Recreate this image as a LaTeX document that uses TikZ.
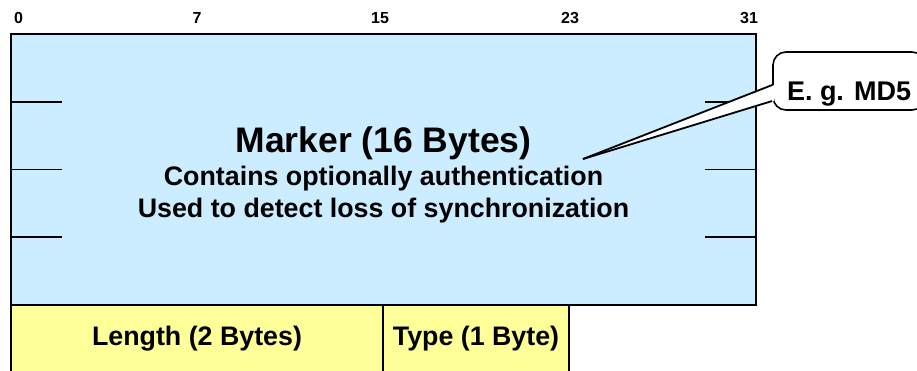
\documentclass[tikz,border=0pt]{standalone}
\usepackage{fontspec}
\setmainfont{Liberation Sans}
\usepackage{tikz}
\usetikzlibrary{positioning,calc}
\definecolor{mkblue}{RGB}{204,236,255}
\definecolor{lnyellow}{RGB}{255,255,153}

\begin{document}
\begin{tikzpicture}[x=1pt,y=-1pt,
  fld/.style={draw,line width=2.1pt,outer sep=0pt,inner sep=0pt},
  bitno/.style={font=\fontsize{16}{18}\selectfont\bfseries},
  bigtxt/.style={font=\fontsize{35.5}{40}\selectfont\bfseries},
  midtxt/.style={font=\fontsize{26.8}{30}\selectfont\bfseries},
  sidemark/.style={line width=1.9pt}]
\useasboundingbox (0,0) rectangle (917,370);
\clip (0,0) rectangle (917,370);

% marker field
\node [fld,fill=mkblue,minimum width=745pt,minimum height=271pt,anchor=north west] (Mk) at (11,34) {};
\node [bitno] (B0) at (18.5,18) {0};
\node [bitno] (B7) at (197,18) {7};
\node [bitno] (B15) at (380,18) {15};
\node [bitno] (B23) at (570,18) {23};
\node [bitno] (B31) at (749,18) {31};

\draw [sidemark] ($(Mk.north west)!0.25!(Mk.south west)$) -- +(51,0);
\draw [sidemark] ($(Mk.north west)!0.5!(Mk.south west)$) -- +(51,0);
\draw [sidemark] ($(Mk.north west)!0.75!(Mk.south west)$) -- +(51,0);
\draw [sidemark] ($(Mk.north east)!0.25!(Mk.south east)$) -- +(-51,0);
\draw [sidemark] ($(Mk.north east)!0.5!(Mk.south east)$) -- +(-51,0);
\draw [sidemark] ($(Mk.north east)!0.75!(Mk.south east)$) -- +(-51,0);

\node [bigtxt,anchor=base] (MkT) at ($(Mk.north)+(0,118)$) {Marker (16 Bytes)};
\node [midtxt,anchor=base] (MkA) at ($(MkT.base)+(0,33)$) {Contains optionally authentication};
\node [midtxt,anchor=base] (MkB) at ($(MkA.base)+(0,32)$) {Used to detect loss of synchronization};

% length and type
\node [fld,fill=lnyellow,midtxt,minimum width=372pt,minimum height=68pt,anchor=north west] (Len) at (Mk.south west) {Length (2 Bytes)};
\node [fld,fill=lnyellow,midtxt,minimum width=186pt,minimum height=68pt,anchor=north west] (Typ) at (Len.north east) {Type (1 Byte)};

% callout
\node [draw,fill=white,rounded corners=13pt,line width=1.6pt,minimum width=152pt,minimum height=58pt] (Cmd) at (849,81) {};
\node [font=\fontsize{27}{29}\selectfont\bfseries,anchor=base] (CmdT) at ($(Cmd.center)+(0,19)$) {E. g. MD5};
\coordinate (Ctip) at (583,159);
\fill [white] (Ctip) -- ($(Cmd.west)+(2,4)$) -- ($(Cmd.west)+(2,20)$) -- cycle;
\draw [line width=1.8pt] (Ctip) -- ($(Cmd.west)+(0,4)$);
\draw [line width=1.8pt] (Ctip) -- ($(Cmd.west)+(0,20)$);
\end{tikzpicture}
\end{document}
